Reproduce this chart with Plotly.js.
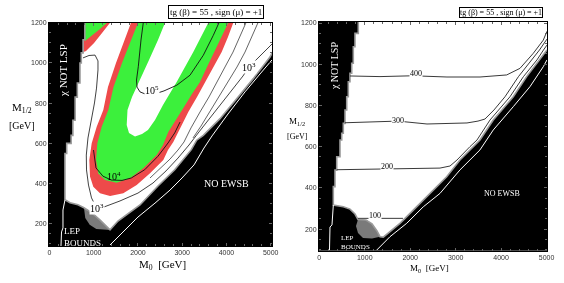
<!DOCTYPE html>
<html><head><meta charset="utf-8">
<script src="https://cdn.plot.ly/plotly-3.0.1.min.js"></script>
<style>html,body{margin:0;padding:0;background:#fff}#chart{width:564px;height:283px}
#chart .svg-container{will-change:transform}
#chart svg text{-webkit-font-smoothing:antialiased}</style>
</head><body><div id="chart"></div>
<script>
// ---------- tick labels ----------
const xTickVals = [0, 1000, 2000, 3000, 4000, 5000];
const xTickText = ['0', '1000', '2000', '3000', '4000', '5000'];
const yTickVals = [200, 400, 600, 800, 1000, 1200];
const yTickText = ['200', '400', '600', '800', '1000', '1200'];
const titleText = 'tg (β) = 55 , sign (μ) = +1';

// ---------- LEFT panel: region boundaries (M0, M1/2 in GeV) ----------
const lspL_x = [800,800,760,760,720,720,690,690,630,630,580,580,530,530,490,490,390,390,350,350];
const lspL_y = [1200,1115,1115,1050,1050,1000,1000,900,900,830,830,715,715,640,640,600,600,550,550,320];
const lepL_x = [350,465,645,780,960,1140,1280,1369];
const lepL_y = [320,305,295,280,255,220,190,170];
const ewsbL_x = [1369,1549,1798,2047,2453,2831,3206,3328,3477,3855,4232,4607,4985,5030];
const ewsbL_y = [170,214,254,294,388,469,569,616,640,723,822,922,1029,1049];
const grayL_x = [780,960,1140,1280,1369,1060,910,810];
const grayL_y = [280,255,220,190,170,175,196,229];
const lepLineL_x = [261,273,306,306,350];
const lepLineL_y = [90,160,180,269,318];
const ewsbLineL_x = [1369,1709,2001,2385,2725,2996,3267,3493,3674,4035,4420,4759,5030];
const ewsbLineL_y = [95,170,234,303,368,428,493,577,637,746,856,945,1015];
// relic density bands
const redU_x = [1843,1696,1504,1323,1217,1068,955,901,917,991,1143,1369,1669,1972,2273,2573,2679,2799,2951,3138,3335,3516,3696,3893,4035,4155];
const redU_y = [1200,1114,1000,880,766,683,601,518,435,385,352,339,352,393,452,518,567,607,677,756,831,905,980,1054,1129,1200];
const greenU_x = [2001,1843,1640,1448,1330,1181,1082,1052,1104,1256,1520,1821,2121,2424,2566,2686,2860,3041,3222,3403,3561,3719,3877,4042];
const greenU_y = [1200,1114,1000,880,766,683,601,518,451,418,405,427,476,542,592,657,716,781,846,905,980,1054,1129,1200];
const holeU_x = [2612,2453,2250,2047,1866,1764,1746,1798,1934,2092,2227,2386,2566,2876,3251,3590];
const holeU_y = [1200,1114,1015,915,831,766,692,652,634,647,667,716,791,905,1054,1200];
const redP_x = [804,1369,1188,1008,827,770,770,804];
const redP_y = [1200,1200,1149,1099,1059,1054,1114,1114];
const greenP_x = [804,1301,1143,984,849,804];
const greenP_y = [1200,1200,1169,1139,1114,1109];
// contour lines
const c5L_x = [2121,2069,2008,1968,1979,2047,2160,2453,2589,2876,3177,3477,3703,3832];
const c5L_y = [1200,1114,981,915,880,856,846,851,861,889,939,1038,1137,1200];
const c4L_x = [996,1052,1210,1398,1640,1850,2153,2453,2680,2831,2951];
const c4L_y = [567,478,437,418,416,428,469,536,602,652,706];
const c3L_x = [758,894,1030,1097,1097,1064,1018,939,871,833,838,883,951,1030,1233,1595,2001,2340,2634,2905,3154,3380,3629,3900,4171,4374,4510,4713,4894,5030];
const c3L_y = [1025,1037,1039,1010,965,875,801,716,627,542,468,393,329,294,284,314,353,403,463,527,592,657,726,801,875,935,980,1025,1064,1094];
const e1L_x = [4442,4307,4149,3968,3787,3606,3403,3199,3041,2905,2725,2498,2273];
const e1L_y = [1200,1129,1054,980,905,831,756,677,607,567,522,473,428];
const e2L_x = [4713,4578,4420,4239,4035,3832,3629,3425,3244];
const e2L_y = [1200,1129,1054,980,905,831,756,686,627];

// ---------- RIGHT panel ----------
const lspR_x = [858,858,785,785,748,748,713,713,675,675,638,638,603,603,565,565,528,528,493,493,455,455,383,383,345,345,308,308];
const lspR_y = [1205,1150,1150,1085,1085,1005,1005,956,956,915,915,842,842,778,778,713,713,665,665,632,632,551,551,486,486,406,406,317];
const lepR_x = [308,528,675,785,851,1027,1159,1269,1335,1408];
const lepR_y = [317,308,297,273,246,244,225,191,163,161];
const ewsbR_x = [1408,1555,1775,2068,2435,2803,3095,3388,3535,3828,4268,4563,4855,5010];
const ewsbR_y = [161,187,228,292,373,454,535,600,632,729,842,940,1021,1069];
const grayR_x = [851,1027,1159,1269,1335,1159,961,851,807];
const grayR_y = [246,244,225,191,163,154,157,181,215];
const lepLineR_x = [224,235,279,301,308];
const lepLineR_y = [98,210,220,292,317];
const ewsbLineR_x = [1263,1555,1923,2288,2655,3095,3535,3828,4268,4635,4928,5010];
const ewsbLineR_y = [98,163,228,308,373,487,584,681,794,891,988,1021];
const c400R_x = [675,1335,2061,2809,3535,4123,4415,4708,4928,5010];
const c400R_y = [943,940,944,938,938,948,980,1053,1117,1160];
const c300R_x = [565,1731,2369,3249,3491,3645,3843,4085,4382,4679,4844,5009];
const c300R_y = [716,724,710,715,724,734,778,842,940,1021,1069,1122];
const c200R_x = [383,1483,2655,2875,3029,3315,3469,3755,4195,4492,4789,4932,5009];
const c200R_y = [488,492,496,506,535,600,632,729,842,940,1021,1069,1093];
const c100R_x = [851,1225,1841];
const c100R_y = [252,253,252];

const xRangeL = [-10, 5030], yRangeL = [90, 1200];
const xRangeR = [-7, 5010], yRangeR = [95, 1205];

// ---------- helpers ----------
const AXL = {xaxis:'x', yaxis:'y'}, AXR = {xaxis:'x2', yaxis:'y2'};
function poly(ax, xs, ys, color) {
  return Object.assign({type:'scatter', mode:'lines', x:xs, y:ys, fill:'toself',
    fillcolor:color, line:{width:0, color:color}, hoverinfo:'skip', showlegend:false}, ax);
}
function line(ax, xs, ys, color, w) {
  return Object.assign({type:'scatter', mode:'lines', x:xs, y:ys,
    line:{width:w, color:color, shape:'linear'}, hoverinfo:'skip', showlegend:false}, ax);
}
const RED = '#ee4a4a', GREEN = '#3cf03c', GRAYFILL = '#7a7a7a', GRAYLINE = '#9a9a9a';

const allowedL_x = lspL_x.concat(lepL_x.slice(1), ewsbL_x.slice(1), [xRangeL[1]]);
const allowedL_y = lspL_y.concat(lepL_y.slice(1), ewsbL_y.slice(1), [yRangeL[1]]);
const allowedR_x = lspR_x.concat(lepR_x.slice(1), ewsbR_x.slice(1), [xRangeR[1]]);
const allowedR_y = lspR_y.concat(lepR_y.slice(1), ewsbR_y.slice(1), [yRangeR[1]]);
const bndL_x = lspL_x.concat(lepL_x.slice(1), ewsbL_x.slice(1));
const bndL_y = lspL_y.concat(lepL_y.slice(1), ewsbL_y.slice(1));
const bndR_x = lspR_x.concat(lepR_x.slice(1), ewsbR_x.slice(1));
const bndR_y = lspR_y.concat(lepR_y.slice(1), ewsbR_y.slice(1));

const traces = [
  poly(AXL, allowedL_x, allowedL_y, '#ffffff'),
  poly(AXL, redU_x, redU_y, RED),
  poly(AXL, greenU_x, greenU_y, GREEN),
  poly(AXL, holeU_x, holeU_y, '#ffffff'),
  poly(AXL, redP_x, redP_y, RED),
  poly(AXL, greenP_x, greenP_y, GREEN),
  poly(AXL, grayL_x, grayL_y, GRAYFILL),
  line(AXL, bndL_x, bndL_y, GRAYLINE, 1.6),
  line(AXL, lepLineL_x, lepLineL_y, '#ffffff', 1),
  line(AXL, ewsbLineL_x, ewsbLineL_y, '#ffffff', 1),
  line(AXL, c5L_x, c5L_y, '#111', 0.9),
  line(AXL, c4L_x, c4L_y, '#111', 0.9),
  line(AXL, c3L_x, c3L_y, '#111', 0.8),
  line(AXL, e1L_x, e1L_y, '#222', 0.7),
  line(AXL, e2L_x, e2L_y, '#222', 0.7),

  poly(AXR, allowedR_x, allowedR_y, '#ffffff'),
  poly(AXR, grayR_x, grayR_y, GRAYFILL),
  line(AXR, bndR_x, bndR_y, GRAYLINE, 1.6),
  line(AXR, lepLineR_x, lepLineR_y, '#ffffff', 1),
  line(AXR, ewsbLineR_x, ewsbLineR_y, '#ffffff', 1),
  line(AXR, c400R_x, c400R_y, '#222', 0.9),
  line(AXR, c300R_x, c300R_y, '#222', 0.9),
  line(AXR, c200R_x, c200R_y, '#222', 0.9),
  line(AXR, c100R_x, c100R_y, '#222', 0.9)
];

const SERIF = 'Liberation Serif, Times New Roman, serif';
function axisX(domain, range, anchor) {
  return {domain:domain, range:range, anchor:anchor, tickmode:'array', tickvals:xTickVals, ticktext:xTickText,
    ticks:'inside', ticklen:3, tickcolor:'#666', tickwidth:1,
    minor:{tickmode:'linear', tick0:0, dtick:200, ticks:'inside', ticklen:2, tickcolor:'#666'},
    showline:true, linecolor:'#000', linewidth:1, mirror:'allticks', showgrid:false, zeroline:false,
    tickfont:{family:'Liberation Sans, Arial, sans-serif', size:7, color:'#333'}, fixedrange:true};
}
function axisY(domain, range, anchor) {
  return {domain:domain, range:range, anchor:anchor, tickmode:'array', tickvals:yTickVals, ticktext:yTickText,
    ticks:'inside', ticklen:3, tickcolor:'#666', tickwidth:1,
    minor:{tickmode:'linear', tick0:0, dtick:50, ticks:'inside', ticklen:2, tickcolor:'#666'},
    showline:true, linecolor:'#000', linewidth:1, mirror:'allticks', showgrid:false, zeroline:false,
    tickfont:{family:'Liberation Sans, Arial, sans-serif', size:7, color:'#333'}, fixedrange:true};
}

function ann(xref, yref, x, y, text, size, color, extra) {
  return Object.assign({xref:xref, yref:yref, x:x, y:y, text:text, showarrow:false,
    font:{family:SERIF, size:size, color:color}, xanchor:'center', yanchor:'middle'}, extra || {});
}
const WB = {bgcolor:'#ffffff', borderpad:0};
const annotations = [
  ann('paper','paper', 0.3826, 0.9565, titleText, 9, '#000', {bordercolor:'#000', borderwidth:1, borderpad:1, bgcolor:'#fff'}),
  ann('paper','paper', 0.8887, 0.9565, titleText, 8, '#000', {bordercolor:'#000', borderwidth:1, borderpad:0, bgcolor:'#fff'}),
  ann('paper','paper', 0.2890, 0.0636, 'M<sub>0</sub>  [GeV]', 11, '#000'),
  ann('paper','paper', 0.7624, 0.0530, 'M<sub>0</sub>  [GeV]', 9, '#000'),
  ann('paper','paper', 0.0390, 0.6184, 'M<sub>1/2</sub>', 11, '#000'),
  ann('paper','paper', 0.0390, 0.5583, '[GeV]', 10, '#000'),
  ann('paper','paper', 0.5266, 0.5724, 'M<sub>1/2</sub>', 9, '#000'),
  ann('paper','paper', 0.5266, 0.5177, '[GeV]', 8, '#000'),
  // left panel
  ann('x','y', 306, 965, 'χ NOT LSP', 11, '#fff', {textangle:-90}),
  ann('x','y', 4001, 403, 'NO EWSB', 10, '#fff'),
  ann('x','y', 284, 135, 'LEP<br>BOUNDS', 9, '#fff', {xanchor:'left', align:'left'}),
  ann('x','y', 2307, 865, '10<sup>5</sup>', 10, '#000', WB),
  ann('x','y', 1448, 440, '10<sup>4</sup>', 10, '#000'),
  ann('x','y', 1064, 279, '10<sup>3</sup>', 10, '#000', WB),
  ann('x','y', 4510, 980, '10<sup>3</sup>', 10, '#000', WB),
  // right panel
  ann('x2','y2', 323, 991, 'χ NOT LSP', 10, '#fff', {textangle:-90}),
  ann('x2','y2', 4013, 373, 'NO EWSB', 8, '#fff'),
  ann('x2','y2', 433, 137, 'LEP<br>BOUNDS', 7, '#fff', {xanchor:'left', align:'left'}),
  ann('x2','y2', 2127, 953, '400', 8, '#000', WB),
  ann('x2','y2', 1737, 729, '300', 8, '#000', WB),
  ann('x2','y2', 1483, 504, '200', 8, '#000', WB),
  ann('x2','y2', 1225, 266, '100', 8, '#000', WB)
];

const layout = {
  width:564, height:283, margin:{l:0, r:0, t:0, b:0, pad:0},
  paper_bgcolor:'#ffffff', plot_bgcolor:'#000000', showlegend:false, hovermode:false,
  xaxis: axisX([0.08688, 0.48227], xRangeL, 'y'),
  yaxis: axisY([0.13074, 0.91979], yRangeL, 'x'),
  xaxis2: axisX([0.56560, 0.96986], xRangeR, 'y2'),
  yaxis2: axisY([0.11413, 0.92226], yRangeR, 'x2'),
  annotations: annotations
};
Plotly.newPlot('chart', traces, layout, {staticPlot:true, displayModeBar:false});
</script>
</body></html>
